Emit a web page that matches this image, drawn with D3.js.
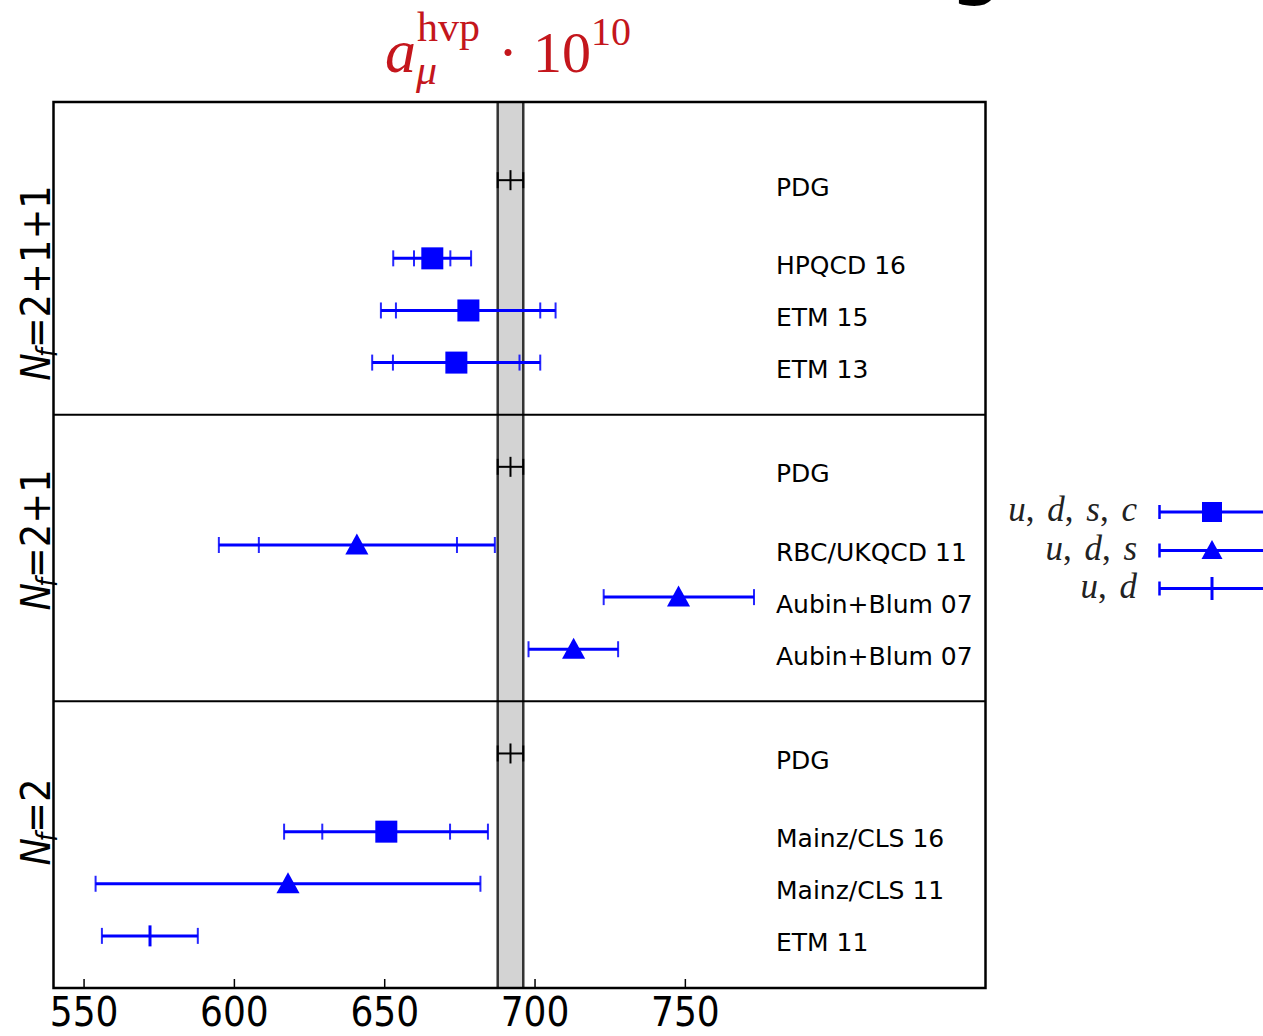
<!DOCTYPE html>
<html>
<head>
<meta charset="utf-8">
<script src="https://cdn.jsdelivr.net/npm/d3@7"></script>
<style>
  html, body { margin: 0; padding: 0; background: #fff; }
  svg { display: block; }
</style>
</head>
<body>
<svg id="chart" width="1263" height="1036"></svg>
<script>
// ---------------- DATA ----------------
const groups = ["2", "2+1", "2+1+1"];            // bottom to top
const groupLabelPrefix = "N";
// entries listed bottom-to-top within each group
const labels   = ["ETM 11", "Mainz/CLS 11", "Mainz/CLS 16",
                  "Aubin+Blum 07", "Aubin+Blum 07", "RBC/UKQCD 11",
                  "ETM 13", "ETM 15", "HPQCD 16"];
const groupOf  = [0, 0, 0, 1, 1, 1, 2, 2, 2];
const flavours = ["ud", "uds", "udsc", "uds", "uds", "uds", "udsc", "udsc", "udsc"];
const central  = [572.1, 618.0, 650.7, 713.0, 747.9, 640.9, 674.0, 678.0, 666.0];
const statLo   = [null, null, 629.4, null, null, 608.3, 652.9, 653.9, 659.9];
const statHi   = [null, null, 671.9, null, null, 674.2, 695.0, 701.9, 672.0];
const totLo    = [556.1, 554.0, 616.7, 698.0, 723.0, 595.0, 646.0, 648.9, 653.0];
const totHi    = [588.0, 682.0, 684.5, 727.8, 773.0, 686.8, 701.9, 707.0, 678.9];

const pdgLabel = "PDG";
const pdgValue = 692.0;
const pdgLo    = 687.75;
const pdgHi    = 696.25;

const xTicks   = [550, 600, 650, 700, 750];
const xDomain  = [540, 850];

const legendKeys   = ["udsc", "uds", "ud"];
const legendLabels = [["u", "d", "s", "c"], ["u", "d", "s"], ["u", "d"]];

// ---------------- LAYOUT ----------------
const svg = d3.select("#chart");
const L = 53.5, R = 985.5, T = 102, B = 988;
const blue = "#0000ff";
const red = "#c4161c";

const x = d3.scaleLinear().domain(xDomain).range([L, R]);

// row positions (in row units) built from group ordering
let pos = 0;
const rowPos = new Array(labels.length);
const pdgPos = [], boundaries = [];
groups.forEach((g, gi) => {
  labels.forEach((l, i) => { if (groupOf[i] === gi) { pos += 1; rowPos[i] = pos; } });
  pos += 1.5; pdgPos.push(pos);
  pos += 1; boundaries.push(pos);
});
const yTop = boundaries[boundaries.length - 1] + 0.5;
const y = d3.scaleLinear().domain([0, yTop]).range([B, T]);

// ---------------- TITLE ----------------
const title = svg.append("g").attr("fill", red).attr("font-family", "'Liberation Serif', 'DejaVu Serif', serif");
title.append("text").attr("x", 385).attr("y", 72).attr("font-size", 62).attr("font-style", "italic").text("a");
title.append("text").attr("x", 417).attr("y", 41).attr("font-size", 42).text("hvp");
title.append("text").attr("x", 416).attr("y", 84).attr("font-size", 42).attr("font-style", "italic").text("μ");
title.append("text").attr("x", 508).attr("y", 72).attr("font-size", 60).attr("text-anchor", "middle").text("·");
title.append("text").attr("x", 533).attr("y", 72).attr("font-size", 58).text("10");
title.append("text").attr("x", 591).attr("y", 45).attr("font-size", 40).text("10");

// fragment of a heading cut by the top edge
svg.append("text").attr("x", 948).attr("y", -13).attr("font-size", 90)
  .attr("font-family", "'DejaVu Sans', sans-serif").attr("fill", "#000").text("g");

// ---------------- PLOT ----------------
const plot = svg.append("g");

// PDG band
plot.append("rect")
  .attr("x", x(pdgLo)).attr("y", T).attr("width", x(pdgHi) - x(pdgLo)).attr("height", B - T)
  .attr("fill", "#d3d3d3");
[pdgLo, pdgHi].forEach(v => {
  plot.append("line").attr("x1", x(v)).attr("x2", x(v)).attr("y1", T).attr("y2", B)
    .attr("stroke", "#333").attr("stroke-width", 2.5);
});

// panel separators
boundaries.slice(0, -1).forEach(b => {
  plot.append("line").attr("x1", L).attr("x2", R).attr("y1", y(b)).attr("y2", y(b))
    .attr("stroke", "#000").attr("stroke-width", 2);
});

// PDG points
pdgPos.forEach(p => {
  const yy = y(p);
  const g = plot.append("g").attr("stroke", "#000");
  g.append("line").attr("x1", x(pdgLo)).attr("x2", x(pdgHi)).attr("y1", yy).attr("y2", yy).attr("stroke-width", 2);
  [pdgLo, pdgHi].forEach(v => g.append("line").attr("x1", x(v)).attr("x2", x(v))
    .attr("y1", yy - 8).attr("y2", yy + 8).attr("stroke-width", 2));
  g.append("line").attr("x1", x(pdgValue)).attr("x2", x(pdgValue))
    .attr("y1", yy - 10).attr("y2", yy + 10).attr("stroke-width", 2);
  plot.append("text").attr("x", 776).attr("y", yy + 7).attr("dominant-baseline", "central")
    .attr("font-family", "'DejaVu Sans', sans-serif").attr("font-size", 25).attr("fill", "#000").text(pdgLabel);
});

function drawMarker(g, type, cx, cy, s) {
  if (type === "udsc") {
    g.append("rect").attr("x", cx - s / 2).attr("y", cy - s / 2).attr("width", s).attr("height", s).attr("fill", blue);
  } else if (type === "uds") {
    const w = s * 1.05, h = s * 0.95;
    g.append("path").attr("d", `M${cx},${cy - h * 0.55}L${cx + w / 2},${cy + h * 0.45}L${cx - w / 2},${cy + h * 0.45}Z`).attr("fill", blue);
  } else {
    g.append("line").attr("x1", cx).attr("x2", cx).attr("y1", cy - s / 2 - 0.5).attr("y2", cy + s / 2 + 0.5)
      .attr("stroke", blue).attr("stroke-width", 3);
  }
}

// entries
labels.forEach((lab, i) => {
  const yy = y(rowPos[i]);
  const g = plot.append("g");
  g.append("line").attr("x1", x(totLo[i])).attr("x2", x(totHi[i])).attr("y1", yy).attr("y2", yy)
    .attr("stroke", blue).attr("stroke-width", 3);
  const caps = [totLo[i], totHi[i]];
  if (statLo[i] !== null) caps.push(statLo[i], statHi[i]);
  caps.forEach(v => g.append("line").attr("x1", x(v)).attr("x2", x(v)).attr("y1", yy - 8).attr("y2", yy + 8)
    .attr("stroke", blue).attr("stroke-width", 2).attr("stroke-opacity", 0.85));
  drawMarker(g, flavours[i], x(central[i]), yy, flavours[i] === "ud" ? 20 : 22);
  plot.append("text").attr("x", 776).attr("y", yy + 7).attr("dominant-baseline", "central")
    .attr("font-family", "'DejaVu Sans', sans-serif").attr("font-size", 25).attr("fill", "#000").text(lab);
});

// frame
plot.append("rect").attr("x", L).attr("y", T).attr("width", R - L).attr("height", B - T)
  .attr("fill", "none").attr("stroke", "#000").attr("stroke-width", 2.5);

// x axis
const axis = d3.axisBottom(x).tickValues(xTicks).tickSizeInner(-9).tickSizeOuter(0).tickPadding(9);
const ax = svg.append("g").attr("transform", `translate(0,${B})`).call(axis);
ax.select(".domain").remove();
ax.selectAll(".tick line").attr("stroke", "#000").attr("stroke-width", 1.5);
ax.selectAll(".tick text").attr("font-family", "'DejaVu Sans Condensed', 'DejaVu Sans', sans-serif")
  .attr("font-size", 40).attr("fill", "#000").attr("dy", "0.73em");

// group labels (rotated)
const groupCenters = [822, 540, 283];
groups.forEach((g, gi) => {
  const t = svg.append("text")
    .attr("transform", `translate(50,${groupCenters[gi]}) rotate(-90)`)
    .attr("text-anchor", "middle")
    .attr("font-family", "'DejaVu Sans Condensed', 'DejaVu Sans', sans-serif")
    .attr("font-size", 41).attr("fill", "#000");
  t.append("tspan").attr("font-style", "italic").text(groupLabelPrefix);
  t.append("tspan").attr("font-style", "italic").attr("font-size", 28).attr("dy", 7).attr("dx", -4).text("f");
  t.append("tspan").attr("dy", -7).text("=" + g);
});

// legend
const legY = [512, 550.5, 588.5];
legendKeys.forEach((k, i) => {
  const yy = legY[i];
  const g = svg.append("g");
  g.append("line").attr("x1", 1159).attr("x2", 1270).attr("y1", yy).attr("y2", yy).attr("stroke", blue).attr("stroke-width", 3);
  g.append("line").attr("x1", 1159.5).attr("x2", 1159.5).attr("y1", yy - 7).attr("y2", yy + 7).attr("stroke", blue).attr("stroke-width", 2.5);
  drawMarker(g, k, 1212, yy, k === "ud" ? 22 : 20);
  const t = g.append("text").attr("x", 1137).attr("y", yy + 9).attr("text-anchor", "end")
    .attr("font-family", "'Liberation Serif', 'DejaVu Serif', serif").attr("font-size", 35)
    .attr("word-spacing", 4).attr("fill", "#222");
  legendLabels[i].forEach((c, j) => {
    t.append("tspan").attr("font-style", "italic").text(c);
    if (j < legendLabels[i].length - 1) t.append("tspan").text(", ");
  });
});
</script>
</body>
</html>
